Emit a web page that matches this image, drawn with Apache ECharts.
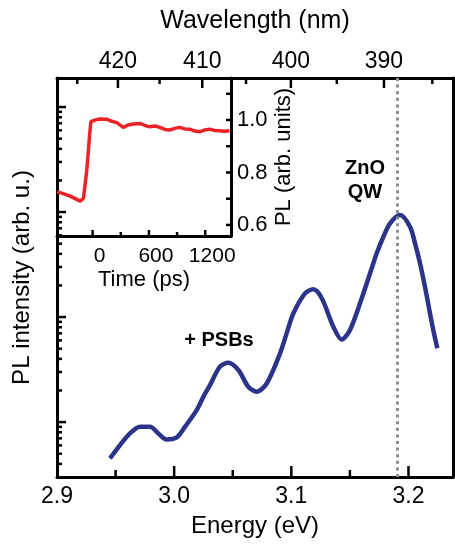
<!DOCTYPE html>
<html><head><meta charset="utf-8">
<script src="https://cdn.jsdelivr.net/npm/echarts@6/dist/echarts.min.js"></script>
<style>html,body{margin:0;padding:0;background:#fff}#c{width:455px;height:546px}</style>
</head><body><div id="c"></div><script>
// Main spectrum (log intensity vs energy)
const energy = [2.9452, 2.9538, 2.9623, 2.9709, 2.9794, 2.9865, 2.9936, 3.0022, 3.0093, 3.0192, 3.0249, 3.0306, 3.0391, 3.0462, 3.0548, 3.0633, 3.0705, 3.0790, 3.0904, 3.0960, 3.1017, 3.1117, 3.1188, 3.1260, 3.1359, 3.1430, 3.1501, 3.1615, 3.1672, 3.1729, 3.1786, 3.1843, 3.1928, 3.2013, 3.2056, 3.2099, 3.2141, 3.2184, 3.2212, 3.2246];
const intensity = [0.451, 0.604, 0.780, 0.904, 0.904, 0.780, 0.684, 0.715, 0.904, 1.30, 1.74, 2.25, 3.37, 3.67, 3.13, 2.17, 1.95, 2.33, 4.51, 7.0, 10.8, 16.8, 18.4, 15.1, 8.09, 6.12, 7.52, 16.8, 26.1, 40.5, 58.2, 78.0, 93.5, 72.4, 50.3, 32.4, 19.4, 10.8, 7.5, 5.04];
// Inset transient
const time = [-377, -239, -133, -98, -62, -34, -19, 27, 80, 151, 196, 257, 327, 377, 433, 504, 558, 611, 664, 717, 770, 823, 876, 929, 982, 1035, 1088, 1142, 1195, 1248, 1301, 1354, 1407, 1460];
const plTransient = [0.727, 0.710, 0.691, 0.702, 0.810, 0.936, 0.994, 1.000, 1.004, 1.003, 0.996, 0.990, 0.972, 0.981, 0.985, 0.987, 0.979, 0.974, 0.977, 0.972, 0.964, 0.962, 0.968, 0.972, 0.966, 0.965, 0.958, 0.955, 0.962, 0.965, 0.960, 0.959, 0.957, 0.959];
// Ticks / labels
const energyLabels = [2.9, 3.0, 3.1, 3.2];
const energyMajorTicks = [3.0, 3.1, 3.2];
const energyMinorTicks = [2.95, 3.05, 3.15];
const wavelengthMajor = [420, 410, 400, 390];
const wavelengthMinor = [425, 415, 405, 395, 385];
const logMajor = [1, 10, 100, 1000];
const logMinor = [0.4, 0.5, 0.6, 0.7, 0.8, 0.9, 2, 3, 4, 5, 6, 7, 8, 9, 20, 30, 40, 50, 60, 70, 80, 90, 200, 300, 400, 500, 600, 700, 800, 900];
const timeMajor = [0, 600, 1200];
const timeMinor = [300, 900];
const insetYTicks = [0.6, 0.7, 0.8, 0.9, 1.0, 1.1];
const insetYLabels = [0.6, 0.8, 1.0];
const qwEnergy = 3.191;
const annotations = ['ZnO', 'QW', '+ PSBs'];

const HC = 1239.84;
const FONT = 'Liberation Sans, Arial, sans-serif';
const E_MIN = 2.9, E_MAX = 3.238, Y_MIN = 0.3, Y_MAX = 1890;
const T_MIN = -380, T_MAX = 1475, P_MIN = 0.558, P_MAX = 1.16;
const lbl = (size) => ({color: '#000', fontFamily: FONT, fontSize: size});
const line = () => ({show: true, onZero: false, lineStyle: {color: '#000', width: 3}});

function axis(o) {
  return Object.assign({type: 'value', splitLine: {show: false}, axisLabel: {show: false}, axisTick: {show: false}, axisLine: line()}, o);
}

const textGraphics = [
  {type: 'text', x: 365, y: 168, z: 10, style: {text: annotations[0], font: 'bold 20px ' + FONT, fill: '#000', align: 'center', verticalAlign: 'middle'}},
  {type: 'text', x: 365, y: 192, z: 10, style: {text: annotations[1], font: 'bold 20px ' + FONT, fill: '#000', align: 'center', verticalAlign: 'middle'}},
  {type: 'text', x: 219, y: 340, z: 10, style: {text: annotations[2], font: 'bold 20px ' + FONT, fill: '#000', align: 'center', verticalAlign: 'middle'}}
];

const chart = echarts.init(document.getElementById('c'), null, {renderer: 'canvas'});
chart.setOption({
  animation: false,
  grid: [
    {left: 57, top: 78, right: 2, bottom: 69, show: false, outerBoundsMode: 'none'},
    {left: 57, top: 78, width: 174, height: 158, show: false, outerBoundsMode: 'none'}
  ],
  xAxis: [
    axis({gridIndex: 0, position: 'bottom', min: E_MIN, max: E_MAX,
      axisLabel: Object.assign(lbl(23), {show: true, margin: 8, customValues: energyLabels, formatter: v => v.toFixed(1)}),
      name: 'Energy (eV)', nameLocation: 'middle', nameGap: 37, nameTextStyle: lbl(24)}),
    axis({gridIndex: 0, position: 'top', min: E_MIN, max: E_MAX,
      axisLabel: Object.assign(lbl(23), {show: true, margin: 5, customValues: wavelengthMajor.map(w => HC / w), formatter: v => String(Math.round(HC / v))}),
      name: 'Wavelength (nm)', nameLocation: 'middle', nameGap: 44, nameTextStyle: lbl(25)}),
    axis({gridIndex: 1, position: 'bottom', min: T_MIN, max: T_MAX,
      axisLabel: Object.assign(lbl(21), {show: true, margin: 10, customValues: timeMajor, padding: [0, 0, 0, 14], formatter: v => String(v)}),
      name: 'Time (ps)', nameLocation: 'middle', nameGap: 33, nameTextStyle: lbl(22)})
  ],
  yAxis: [
    axis({gridIndex: 0, type: 'log', position: 'left', min: Y_MIN, max: Y_MAX,
      name: 'PL intensity (arb. u.)', nameLocation: 'middle', nameRotate: 90, nameGap: 23, nameTextStyle: lbl(24)}),
    axis({gridIndex: 0, position: 'right', min: 0, max: 1}),
    axis({gridIndex: 1, position: 'right', min: P_MIN, max: P_MAX,
      axisLabel: Object.assign(lbl(22), {show: true, margin: 6, customValues: insetYLabels, formatter: v => v.toFixed(1)}),
      name: 'PL (arb. units)', nameLocation: 'middle', nameRotate: 90, nameGap: 42, nameTextStyle: lbl(22)})
  ],
  series: [
    {type: 'line', xAxisIndex: 0, yAxisIndex: 0, showSymbol: false, smooth: 0.3,
      data: energy.map((e, i) => [e, intensity[i]]),
      lineStyle: {color: '#2b3488', width: 4.5},
      markLine: {silent: true, symbol: ['none', 'none'], label: {show: false},
        lineStyle: {color: '#8c8c8c', width: 3, type: [3, 3.6]},
        data: [{xAxis: qwEnergy}]}},
    {type: 'line', xAxisIndex: 2, yAxisIndex: 2, showSymbol: false,
      data: time.map((t, i) => [t, plTransient[i]]),
      lineStyle: {color: '#ec2227', width: 3.5}}
  ],
  graphic: textGraphics
});

// Tick marks: positions obtained from the axes' own scales via convertToPixel
function tickLines(xi, yi, values, side, edge, len) {
  const isX = side === 'bottom' || side === 'top';
  const dir = {bottom: [0, -1], top: [0, 1], left: [1, 0], right: [-1, 0]}[side];
  return values.map(v => {
    const p = chart.convertToPixel({xAxisIndex: xi, yAxisIndex: yi}, isX ? [v, edge] : [edge, v]);
    return {type: 'line', z: 10, silent: true,
      shape: {x1: p[0], y1: p[1], x2: p[0] + dir[0] * len, y2: p[1] + dir[1] * len},
      style: {stroke: '#000', lineWidth: 2.5}};
  });
}

const tickGraphics = [].concat(
  tickLines(0, 0, energyMajorTicks, 'bottom', Y_MIN, 11),
  tickLines(0, 0, energyMinorTicks, 'bottom', Y_MIN, 7),
  tickLines(0, 0, wavelengthMajor.map(w => HC / w), 'top', Y_MAX, 10),
  tickLines(0, 0, wavelengthMinor.map(w => HC / w), 'top', Y_MAX, 6),
  tickLines(0, 0, logMajor, 'left', E_MIN, 9),
  tickLines(0, 0, logMinor, 'left', E_MIN, 5),
  tickLines(2, 2, timeMajor, 'bottom', P_MIN, 6),
  tickLines(2, 2, timeMinor, 'bottom', P_MIN, 4),
  tickLines(2, 2, insetYTicks, 'right', T_MAX, 5)
);

chart.setOption({graphic: textGraphics.concat(tickGraphics)}, {replaceMerge: ['graphic']});
</script></body></html>
